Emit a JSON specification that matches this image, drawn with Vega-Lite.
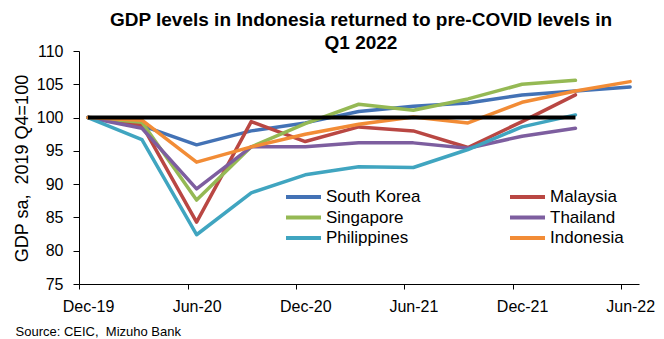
{
  "$schema": "https://vega.github.io/schema/vega-lite/v6.json",
  "width": 560,
  "height": 233,
  "autosize": {"type": "none"},
  "padding": {"left": 79, "top": 51, "right": 25, "bottom": 55},
  "background": "white",
  "title": {
    "text": ["GDP levels in Indonesia returned to pre-COVID levels in", "Q1 2022"],
    "fontSize": 19,
    "fontWeight": "bold",
    "lineHeight": 23,
    "anchor": "middle",
    "frame": "group",
    "dx": 2,
    "offset": -10,
    "color": "black"
  },
  "datasets": {
    "gdp": [
      {"country": "South Korea", "date": "2019-12-16T00:00:00", "value": 100},
      {"country": "South Korea", "date": "2020-03-16T00:00:00", "value": 98.8},
      {"country": "South Korea", "date": "2020-06-16T00:00:00", "value": 95.9},
      {"country": "South Korea", "date": "2020-09-16T00:00:00", "value": 98.0},
      {"country": "South Korea", "date": "2020-12-16T00:00:00", "value": 99.2},
      {"country": "South Korea", "date": "2021-03-16T00:00:00", "value": 100.9},
      {"country": "South Korea", "date": "2021-06-16T00:00:00", "value": 101.7},
      {"country": "South Korea", "date": "2021-09-16T00:00:00", "value": 102.2},
      {"country": "South Korea", "date": "2021-12-16T00:00:00", "value": 103.4},
      {"country": "South Korea", "date": "2022-03-16T00:00:00", "value": 104.0},
      {"country": "South Korea", "date": "2022-06-16T00:00:00", "value": 104.6},
      {"country": "Malaysia", "date": "2019-12-16T00:00:00", "value": 100},
      {"country": "Malaysia", "date": "2020-03-16T00:00:00", "value": 98.9},
      {"country": "Malaysia", "date": "2020-06-16T00:00:00", "value": 84.3},
      {"country": "Malaysia", "date": "2020-09-16T00:00:00", "value": 99.4},
      {"country": "Malaysia", "date": "2020-12-16T00:00:00", "value": 96.4},
      {"country": "Malaysia", "date": "2021-03-16T00:00:00", "value": 98.6},
      {"country": "Malaysia", "date": "2021-06-16T00:00:00", "value": 98.0},
      {"country": "Malaysia", "date": "2021-09-16T00:00:00", "value": 95.5},
      {"country": "Malaysia", "date": "2021-12-16T00:00:00", "value": 99.4},
      {"country": "Malaysia", "date": "2022-03-16T00:00:00", "value": 103.4},
      {"country": "Singapore", "date": "2019-12-16T00:00:00", "value": 100},
      {"country": "Singapore", "date": "2020-03-16T00:00:00", "value": 99.3},
      {"country": "Singapore", "date": "2020-06-16T00:00:00", "value": 87.6},
      {"country": "Singapore", "date": "2020-09-16T00:00:00", "value": 95.6},
      {"country": "Singapore", "date": "2020-12-16T00:00:00", "value": 99.1},
      {"country": "Singapore", "date": "2021-03-16T00:00:00", "value": 102.0},
      {"country": "Singapore", "date": "2021-06-16T00:00:00", "value": 101.1},
      {"country": "Singapore", "date": "2021-09-16T00:00:00", "value": 102.8},
      {"country": "Singapore", "date": "2021-12-16T00:00:00", "value": 105.0},
      {"country": "Singapore", "date": "2022-03-16T00:00:00", "value": 105.6},
      {"country": "Thailand", "date": "2019-12-16T00:00:00", "value": 100},
      {"country": "Thailand", "date": "2020-03-16T00:00:00", "value": 98.4},
      {"country": "Thailand", "date": "2020-06-16T00:00:00", "value": 89.3},
      {"country": "Thailand", "date": "2020-09-16T00:00:00", "value": 95.6},
      {"country": "Thailand", "date": "2020-12-16T00:00:00", "value": 95.6},
      {"country": "Thailand", "date": "2021-03-16T00:00:00", "value": 96.2},
      {"country": "Thailand", "date": "2021-06-16T00:00:00", "value": 96.2},
      {"country": "Thailand", "date": "2021-09-16T00:00:00", "value": 95.4},
      {"country": "Thailand", "date": "2021-12-16T00:00:00", "value": 97.2},
      {"country": "Thailand", "date": "2022-03-16T00:00:00", "value": 98.4},
      {"country": "Philippines", "date": "2019-12-16T00:00:00", "value": 100},
      {"country": "Philippines", "date": "2020-03-16T00:00:00", "value": 96.7},
      {"country": "Philippines", "date": "2020-06-16T00:00:00", "value": 82.4},
      {"country": "Philippines", "date": "2020-09-16T00:00:00", "value": 88.7},
      {"country": "Philippines", "date": "2020-12-16T00:00:00", "value": 91.4},
      {"country": "Philippines", "date": "2021-03-16T00:00:00", "value": 92.6},
      {"country": "Philippines", "date": "2021-06-16T00:00:00", "value": 92.5},
      {"country": "Philippines", "date": "2021-09-16T00:00:00", "value": 95.2},
      {"country": "Philippines", "date": "2021-12-16T00:00:00", "value": 98.6},
      {"country": "Philippines", "date": "2022-03-16T00:00:00", "value": 100.4},
      {"country": "Indonesia", "date": "2019-12-16T00:00:00", "value": 100},
      {"country": "Indonesia", "date": "2020-03-16T00:00:00", "value": 99.6},
      {"country": "Indonesia", "date": "2020-06-16T00:00:00", "value": 93.3},
      {"country": "Indonesia", "date": "2020-09-16T00:00:00", "value": 95.6},
      {"country": "Indonesia", "date": "2020-12-16T00:00:00", "value": 97.5},
      {"country": "Indonesia", "date": "2021-03-16T00:00:00", "value": 99.0},
      {"country": "Indonesia", "date": "2021-06-16T00:00:00", "value": 100.1},
      {"country": "Indonesia", "date": "2021-09-16T00:00:00", "value": 99.2},
      {"country": "Indonesia", "date": "2021-12-16T00:00:00", "value": 102.3},
      {"country": "Indonesia", "date": "2022-03-16T00:00:00", "value": 104.0},
      {"country": "Indonesia", "date": "2022-06-16T00:00:00", "value": 105.4}
    ],
    "ref": [
      {"date": "2019-12-16T00:00:00", "value": 100},
      {"date": "2022-03-16T00:00:00", "value": 100}
    ]
  },
  "encoding": {
    "x": {
      "field": "date",
      "type": "temporal",
      "scale": {"domain": [{"year": 2019, "month": 12, "date": 1}, {"year": 2022, "month": 7, "date": 1}]},
      "axis": {
        "values": [
          {"year": 2019, "month": 12, "date": 1},
          {"year": 2020, "month": 6, "date": 1},
          {"year": 2020, "month": 12, "date": 1},
          {"year": 2021, "month": 6, "date": 1},
          {"year": 2021, "month": 12, "date": 1},
          {"year": 2022, "month": 6, "date": 1}
        ],
        "format": "%b-%y",
        "labelOffset": 9,
        "labelPadding": 9,
        "labelFontSize": 16,
        "labelColor": "black",
        "labelFlush": false,
        "labelOverlap": false,
        "tickSize": 5,
        "tickColor": "black",
        "domainColor": "black",
        "grid": false,
        "title": "Source: CEIC,\u00a0 Mizuho Bank",
        "titleFontSize": 13,
        "titleFontWeight": "normal",
        "titleColor": "black",
        "titleAlign": "left",
        "titleAnchor": "start",
        "titleBaseline": "alphabetic",
        "titleX": -64,
        "titleY": 51
      }
    },
    "y": {
      "field": "value",
      "type": "quantitative",
      "scale": {"domain": [75, 110], "zero": false, "nice": false},
      "axis": {
        "values": [75, 80, 85, 90, 95, 100, 105, 110],
        "labelFontSize": 16,
        "labelColor": "black",
        "labelPadding": 10,
        "labelOverlap": false,
        "labelFlush": false,
        "labelSeparation": 0,
        "tickSize": 6,
        "tickColor": "black",
        "domainColor": "black",
        "grid": false,
        "title": "GDP sa,\u00a0 2019 Q4=100",
        "titleFontSize": 18,
        "titleFontWeight": "normal",
        "titleColor": "black",
        "titleX": -57,
        "titleY": 117,
        "titleAlign": "center",
        "titleBaseline": "middle",
        "titleAngle": -90
      }
    }
  },
  "layer": [
    {
      "data": {"name": "gdp"},
      "mark": {"type": "line", "strokeWidth": 3.5, "strokeJoin": "round", "strokeCap": "round"},
      "encoding": {
        "color": {
          "field": "country",
          "type": "nominal",
          "scale": {
            "domain": ["South Korea", "Singapore", "Philippines", "Malaysia", "Thailand", "Indonesia"],
            "range": ["#4372B5", "#95B954", "#40A5C0", "#B94743", "#7D5E9F", "#F28C36"]
          },
          "legend": {
            "orient": "none",
            "legendX": 212.5,
            "legendY": 134,
            "columns": 2,
            "title": null,
            "symbolType": "M-1.75,0H1.75",
            "symbolSize": 400,
            "symbolStrokeWidth": 4,
            "labelFontSize": 17,
            "labelColor": "black",
            "labelOffset": 10.5,
            "columnPadding": 80,
            "rowPadding": 0.5,
            "padding": 0
          }
        }
      }
    },
    {
      "data": {"name": "ref"},
      "mark": {"type": "line", "strokeWidth": 4, "color": "black"},
      "encoding": {}
    }
  ],
  "config": {
    "font": "Liberation Sans",
    "view": {"stroke": null},
    "axisY": {"labelOverlap": false}
  }
}
